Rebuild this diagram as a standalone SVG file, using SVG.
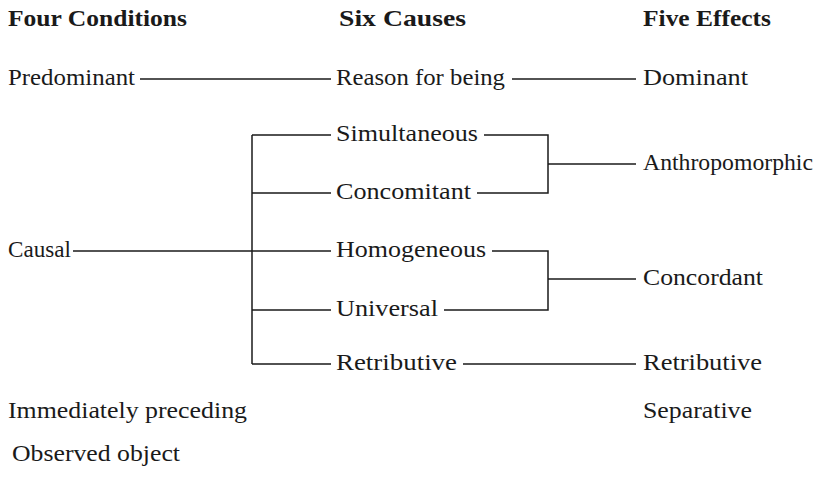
<svg xmlns="http://www.w3.org/2000/svg" width="839" height="499" viewBox="0 0 839 499">
<style>
text{font-family:"Liberation Serif","Times New Roman",serif;font-size:23px;fill:#1a1a1a}
.h{font-weight:bold}
.c{stroke:#1a1a1a;stroke-width:1.5;fill:none}
</style>
<rect width="839" height="499" fill="#fff"/>
<g id="headings">
<text class="h" x="8" y="26" textLength="179" lengthAdjust="spacingAndGlyphs">Four Conditions</text>
<text class="h" x="339" y="26" textLength="127" lengthAdjust="spacingAndGlyphs">Six Causes</text>
<text class="h" x="643" y="26" textLength="128" lengthAdjust="spacingAndGlyphs">Five Effects</text>
</g>
<g id="predominant"><text x="8" y="85" textLength="127" lengthAdjust="spacingAndGlyphs">Predominant</text></g>
<g id="causal"><text x="8" y="257" textLength="63" lengthAdjust="spacingAndGlyphs">Causal</text></g>
<g id="immediately"><text x="8" y="418" textLength="239" lengthAdjust="spacingAndGlyphs">Immediately preceding</text></g>
<g id="observed"><text x="12" y="461" textLength="168" lengthAdjust="spacingAndGlyphs">Observed object</text></g>
<g id="reason"><text x="336" y="85" textLength="169" lengthAdjust="spacingAndGlyphs">Reason for being</text></g>
<g id="simultaneous"><text x="336" y="141" textLength="142" lengthAdjust="spacingAndGlyphs">Simultaneous</text></g>
<g id="concomitant"><text x="336" y="199" textLength="135" lengthAdjust="spacingAndGlyphs">Concomitant</text></g>
<g id="homogeneous"><text x="336" y="257" textLength="150" lengthAdjust="spacingAndGlyphs">Homogeneous</text></g>
<g id="universal"><text x="336" y="316" textLength="102" lengthAdjust="spacingAndGlyphs">Universal</text></g>
<g id="retributive-cause"><text x="336" y="370" textLength="121" lengthAdjust="spacingAndGlyphs">Retributive</text></g>
<g id="dominant"><text x="643" y="85" textLength="105" lengthAdjust="spacingAndGlyphs">Dominant</text></g>
<g id="anthropomorphic"><text x="643" y="170" textLength="170" lengthAdjust="spacingAndGlyphs">Anthropomorphic</text></g>
<g id="concordant"><text x="643" y="285" textLength="120" lengthAdjust="spacingAndGlyphs">Concordant</text></g>
<g id="retributive-effect"><text x="643" y="370" textLength="119" lengthAdjust="spacingAndGlyphs">Retributive</text></g>
<g id="separative"><text x="643" y="418" textLength="109" lengthAdjust="spacingAndGlyphs">Separative</text></g>
<g id="connectors">
<path class="c" d="M140 79H331"/>
<path class="c" d="M512 79H636"/>
<path class="c" d="M73 251H331"/>
<path class="c" d="M252 135V364"/>
<path class="c" d="M252 135H331M252 193H331M252 310H331M252 364H331"/>
<path class="c" d="M484 135H548V193H477"/>
<path class="c" d="M548 164H636"/>
<path class="c" d="M492 251H548V310H444"/>
<path class="c" d="M548 279H636"/>
<path class="c" d="M463 364H636"/>
</g>
</svg>
